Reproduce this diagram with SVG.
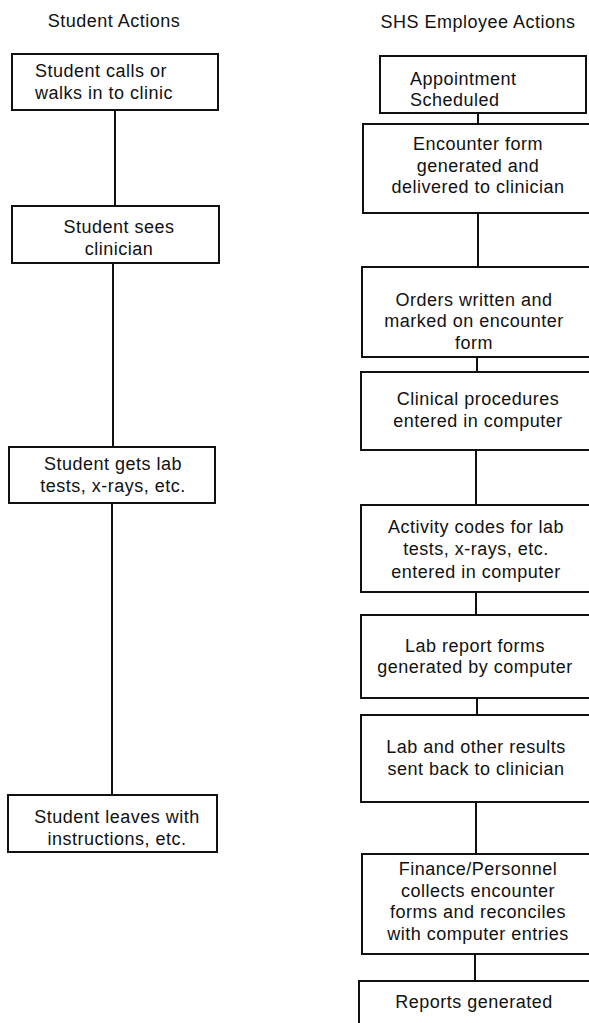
<svg xmlns="http://www.w3.org/2000/svg" width="589" height="1023" viewBox="0 0 589 1023">
<style>
.box{fill:#fff;stroke:#111;stroke-width:2}
.ln{stroke:#111;stroke-width:2;fill:none}
text{font-family:"Liberation Sans",Arial,sans-serif;font-size:18px;letter-spacing:0.5px;fill:#111}
.c{text-anchor:middle}
</style>
<rect width="589" height="1023" fill="#fff"/>
<g id="titles">
<text x="114" y="27" class="c">Student Actions</text>
<text x="478" y="28" class="c">SHS Employee Actions</text>
</g>
<g id="connectors">
<line class="ln" x1="115" y1="110" x2="115" y2="206"/>
<line class="ln" x1="113" y1="263" x2="113" y2="447"/>
<line class="ln" x1="112" y1="503" x2="112" y2="795"/>
<line class="ln" x1="478" y1="113" x2="478" y2="124"/>
<line class="ln" x1="478" y1="213" x2="478" y2="267"/>
<line class="ln" x1="477" y1="357" x2="477" y2="372"/>
<line class="ln" x1="476" y1="450" x2="476" y2="505"/>
<line class="ln" x1="476" y1="592" x2="476" y2="615"/>
<line class="ln" x1="477" y1="698" x2="477" y2="715"/>
<line class="ln" x1="476" y1="802" x2="476" y2="854"/>
<line class="ln" x1="475" y1="954" x2="475" y2="981"/>
</g>
<g id="s1"><rect class="box" x="12" y="54" width="206" height="56"/>
<text x="35" y="77">Student calls or</text><text x="35" y="99">walks in to clinic</text></g>
<g id="s2"><rect class="box" x="12" y="206" width="207" height="57"/>
<text x="119" y="233" class="c">Student sees</text><text x="119" y="255" class="c">clinician</text></g>
<g id="s3"><rect class="box" x="9" y="447" width="206" height="56"/>
<text x="113" y="470" class="c">Student gets lab</text><text x="113" y="492" class="c">tests, x-rays, etc.</text></g>
<g id="s4"><rect class="box" x="8" y="795" width="209" height="57"/>
<text x="117" y="823" class="c">Student leaves with</text><text x="117" y="845" class="c">instructions, etc.</text></g>
<g id="e1"><rect class="box" x="380" y="56" width="206" height="57"/>
<text x="410" y="85">Appointment</text><text x="410" y="106">Scheduled</text></g>
<g id="e2"><rect class="box" x="363" y="124" width="228" height="89"/>
<text x="478" y="150" class="c">Encounter form</text><text x="478" y="172" class="c">generated and</text><text x="478" y="193" class="c">delivered to clinician</text></g>
<g id="e3"><rect class="box" x="362" y="267" width="229" height="90"/>
<text x="474" y="306" class="c">Orders written and</text><text x="474" y="327" class="c">marked on encounter</text><text x="474" y="349" class="c">form</text></g>
<g id="e4"><rect class="box" x="361" y="372" width="230" height="78"/>
<text x="478" y="405" class="c">Clinical procedures</text><text x="478" y="427" class="c">entered in computer</text></g>
<g id="e5"><rect class="box" x="361" y="505" width="230" height="87"/>
<text x="476" y="533" class="c">Activity codes for lab</text><text x="476" y="555" class="c">tests, x-rays, etc.</text><text x="476" y="578" class="c">entered in computer</text></g>
<g id="e6"><rect class="box" x="361" y="615" width="230" height="83"/>
<text x="475" y="652" class="c">Lab report forms</text><text x="475" y="673" class="c">generated by computer</text></g>
<g id="e7"><rect class="box" x="361" y="715" width="230" height="87"/>
<text x="476" y="753" class="c">Lab and other results</text><text x="476" y="775" class="c">sent back to clinician</text></g>
<g id="e8"><rect class="box" x="362" y="854" width="229" height="100"/>
<text x="478" y="875" class="c">Finance/Personnel</text><text x="478" y="897" class="c">collects encounter</text><text x="478" y="918" class="c">forms and reconciles</text><text x="478" y="940" class="c">with computer entries</text></g>
<g id="e9"><rect class="box" x="359" y="981" width="232" height="50"/>
<text x="474" y="1008" class="c">Reports generated</text></g>
</svg>
